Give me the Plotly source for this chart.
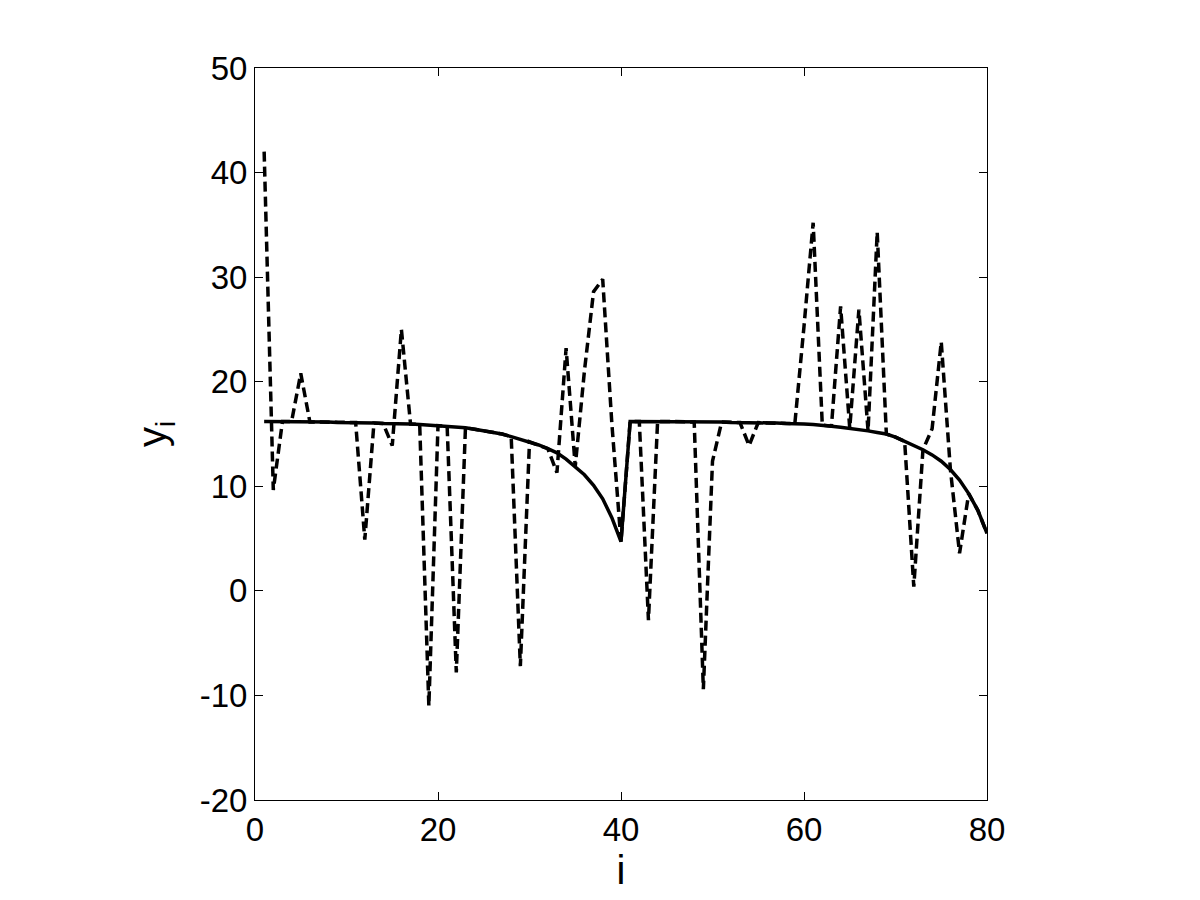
import plotly.graph_objects as go

# index values
i_vals = list(range(1, 81))

# solid series (model)
solid_y = [16.2, 16.2, 16.2, 16.2, 16.15, 16.15, 16.15, 16.15, 16.1, 16.1,
           16.1, 16.05, 16.05, 16.0, 16.0, 15.95, 15.95, 15.9, 15.85, 15.8,
           15.75, 15.65, 15.6, 15.45, 15.3, 15.15, 15.0, 14.75, 14.5, 14.25,
           13.95, 13.6, 13.2, 12.6, 11.9, 11.1, 10.1, 8.8, 7.0, 4.7,
           16.2, 16.2, 16.2, 16.2, 16.2, 16.2, 16.2, 16.15, 16.15, 16.15,
           16.15, 16.1, 16.1, 16.1, 16.1, 16.05, 16.05, 16.0, 16.0, 15.95,
           15.9, 15.85, 15.75, 15.65, 15.55, 15.45, 15.3, 15.15, 15.0, 14.7,
           14.3, 13.9, 13.5, 13.0, 12.4, 11.6, 10.6, 9.3, 7.7, 5.5]

# dashed series (observations)
dashed_y = [42.0, 9.65, 16.2, 16.2, 20.8, 16.15, 16.15, 16.15, 16.1, 16.1,
            16.1, 4.9, 16.05, 16.0, 13.9, 25.0, 15.95, 15.9, -11.0, 15.8,
            15.75, -7.8, 15.6, 15.45, 15.3, 15.15, 15.0, 14.75, -7.2, 14.25,
            13.95, 13.6, 11.3, 23.2, 11.9, 21.0, 28.6, 29.8, 16.0, 4.7,
            16.2, 16.2, -2.8, 16.2, 16.2, 16.2, 16.2, 16.15, -9.4, 12.4,
            16.15, 16.1, 16.1, 13.9, 16.1, 16.05, 16.05, 16.0, 16.0, 25.3,
            35.2, 15.85, 15.75, 27.2, 15.55, 26.9, 15.3, 34.3, 15.0, 14.7,
            14.3, 0.4, 13.5, 15.5, 23.8, 11.6, 3.6, 9.3, 7.7, 5.5]

x_ticks = [0, 20, 40, 60, 80]
y_ticks = [-20, -10, 0, 10, 20, 30, 40, 50]

fig = go.Figure()
fig.add_trace(go.Scatter(x=i_vals, y=dashed_y, mode="lines",
                         line=dict(color="black", width=3.5, dash="10px,5px"),
                         showlegend=False))
fig.add_trace(go.Scatter(x=i_vals, y=solid_y, mode="lines",
                         line=dict(color="black", width=3.5),
                         showlegend=False))

fam = "Liberation Sans, Arial, sans-serif"
axis_font = dict(family=fam, size=33, color="black")
title_font = dict(family=fam, size=40, color="black")
fig.update_layout(
    width=1200, height=900,
    margin=dict(l=247, r=221, t=60, b=108, pad=0),
    paper_bgcolor="white", plot_bgcolor="white",
    font=axis_font,
    xaxis=dict(range=[0, 80], tickvals=x_ticks, ticktext=[str(v) for v in x_ticks],
               ticks="inside", ticklen=8, tickcolor="black", tickwidth=1,
               showline=True, linecolor="black", linewidth=1, mirror="ticks",
               showgrid=False, zeroline=False, tickfont=axis_font,
               title=dict(text="i", font=title_font, standoff=6)),
    yaxis=dict(range=[-20, 50], tickvals=y_ticks, ticktext=[str(v) for v in y_ticks],
               ticks="inside", ticklen=8, tickcolor="black", tickwidth=1,
               showline=True, linecolor="black", linewidth=1, mirror="ticks",
               showgrid=False, zeroline=False, tickfont=axis_font,
               title=dict(text="y<sub>i</sub>", font=title_font, standoff=20)),
)

fig.write_html("out.html")
